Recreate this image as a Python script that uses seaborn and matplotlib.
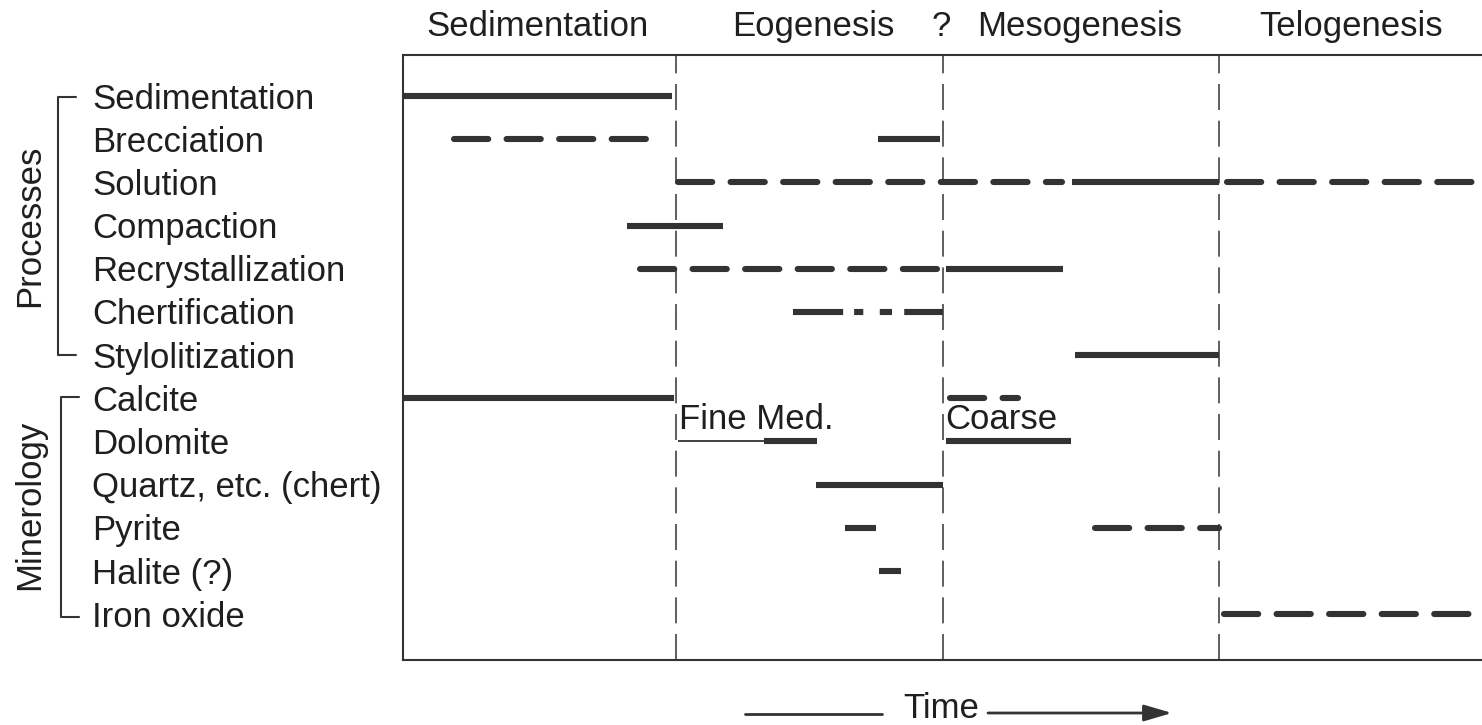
import matplotlib
matplotlib.use("Agg")
import matplotlib.pyplot as plt
import matplotlib.transforms as mtransforms
from matplotlib.lines import Line2D
import seaborn as sns

# row labels, top to bottom
rows = ["Sedimentation", "Brecciation", "Solution", "Compaction",
        "Recrystallization", "Chertification", "Stylolitization",
        "Calcite", "Dolomite", "Quartz, etc. (chert)", "Pyrite",
        "Halite (?)", "Iron oxide"]

# stages along the time axis (0..100 relative time units)
stages = ["Sedimentation", "Eogenesis", "?", "Mesogenesis", "Telogenesis"]
stage_pos = [12.5, 38.0, 49.9, 62.7, 87.9]
stage_bounds = [25.3, 50.0, 75.6]

# duration segments: row index, start, end, style
seg_row = [0, 1, 1, 2, 2, 2, 3, 4, 4, 5, 6,
           7, 7, 8, 8, 8, 9, 10, 10, 11, 12]
seg_start = [0.0, 4.7, 44.0, 25.5, 62.0, 76.4, 20.8, 22.0, 50.3, 36.1, 62.3,
             0.0, 50.7, 25.5, 33.5, 50.3, 38.3, 41.0, 64.1, 44.1, 76.1]
seg_end = [24.9, 23.5, 49.8, 61.1, 75.6, 100.0, 29.7, 49.6, 61.2, 50.0, 75.6,
           25.1, 57.0, 33.5, 38.4, 61.9, 50.0, 43.8, 75.6, 46.2, 100.0]
seg_style = ["solid", "dashed", "solid", "dashed", "solid", "dashed", "solid",
             "dashed", "solid", "dashdot", "solid",
             "solid", "dashed", "thin", "solid", "solid", "solid", "solid",
             "dashed", "solid", "dashed"]

# grain-size notes on the dolomite row
notes = ["Fine Med.", "Coarse"]
note_x = [25.6, 50.3]
note_y = [7.48, 7.48]

sns.set_style("white")
plt.rcParams["font.family"] = ["Liberation Sans", "DejaVu Sans"]
ink = "#333333"
txt = "#1f1f1f"
fs = 25

fig = plt.figure(figsize=(14.82, 7.25), dpi=100)
ax = fig.add_axes([403 / 1482, 1 - 660 / 725, 1079 / 1482, 605 / 725])

styles = {
    "solid": dict(ls="-", lw=4.4, solid_capstyle="butt"),
    "thin": dict(ls="-", lw=1.3, solid_capstyle="butt"),
    "dashed": dict(ls=(0, (5.6, 3.0)), lw=4.4, dash_capstyle="round"),
    "dashdot": dict(ls=(0, (8.2, 1.8, 1.5, 2.7, 2.0, 2.0)), lw=4.4,
                    dash_capstyle="butt"),
}
for r, s, e, st in zip(seg_row, seg_start, seg_end, seg_style):
    ax.plot([s, e], [r, r], color=ink, **styles[st])

for b in stage_bounds:
    ax.axvline(b, color=ink, lw=1.1, ls=(0, (17, 7)))

for t, x, y in zip(notes, note_x, note_y):
    ax.text(x, y, t, fontsize=fs, color=txt, ha="left", va="center")

ax.set_xlim(0, 100)
ax.set_ylim(13.06, -0.95)
ax.set_xticks([])
ax.set_yticks(range(len(rows)))
ax.set_yticklabels(rows, ha="left", fontsize=fs, color=txt)
ax.tick_params(axis="y", length=0, pad=(403 - 92) / 1.389)
shift = mtransforms.ScaledTranslation(0, -3 / 100, fig.dpi_scale_trans)
for lab in ax.get_yticklabels():
    lab.set_va("center")
    lab.set_transform(lab.get_transform() + shift)

for t, x in zip(stages, stage_pos):
    ax.text(x, 1.047, t, transform=ax.get_xaxis_transform(), fontsize=fs,
            color=txt, ha="center", va="center")

sns.despine(ax=ax, right=True, top=False, left=False, bottom=False)
for sp in ["left", "top", "bottom"]:
    ax.spines[sp].set_color(ink)
    ax.spines[sp].set_linewidth(1.5)

# group brackets on the left
W, H = 1482, 725


def bracket(x0, x1, ytop, ybot):
    xs = [x1 / W, x0 / W, x0 / W, x1 / W]
    ys = [1 - ytop / H, 1 - ytop / H, 1 - ybot / H, 1 - ybot / H]
    fig.add_artist(Line2D(xs, ys, color=ink, lw=1.5, transform=fig.transFigure))


bracket(58, 76, 97, 355)
bracket(61, 79, 397, 617)
fig.text(30 / W, 1 - 226 / H, "Processes", rotation=90, fontsize=fs,
         color=txt, ha="center", va="center")
fig.text(30 / W, 1 - 505 / H, "Minerology", rotation=90, fontsize=fs,
         color=txt, ha="center", va="center")

# time arrow
fig.add_artist(Line2D([745 / W, 882 / W], [1 - 714 / H, 1 - 714 / H],
                      color=ink, lw=2.0, transform=fig.transFigure))
fig.text(941 / W, 1 - 709 / H, "Time", fontsize=fs, color=txt,
         ha="center", va="center")
ax.annotate("", xy=(1172 / W, 1 - 713 / H), xytext=(988 / W, 1 - 713 / H),
            xycoords="figure fraction", textcoords="figure fraction",
            arrowprops=dict(arrowstyle="-|>,head_length=1.7,head_width=0.5",
                            color=ink, lw=2.0, shrinkA=0, shrinkB=0))

fig.savefig("out.png", dpi=100)
